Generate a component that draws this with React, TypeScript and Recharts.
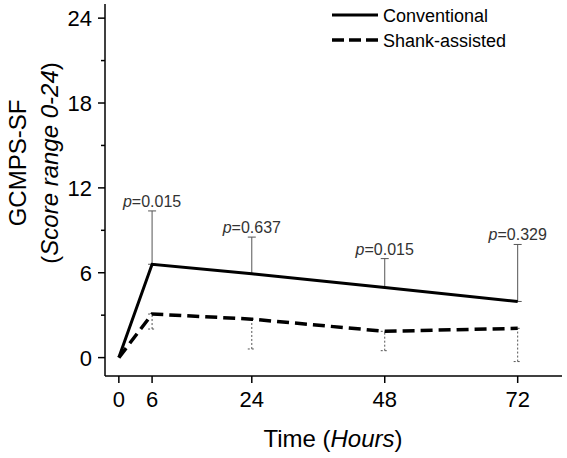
import React from "react";
import {
  LineChart,
  Line,
  XAxis,
  YAxis,
  ErrorBar,
  LabelList,
  Legend,
} from "recharts";

const hours = [0, 6, 24, 48, 72];
const conventional = [0, 6.6, 5.93, 4.96, 3.97];
const conventionalUpper = [null, 10.37, 8.52, 7.0, 8.0];
const shank = [0, 3.08, 2.72, 1.86, 2.07];
const shankLower = [null, 2.02, 0.61, 0.49, -0.28];
const pValues = [null, "0.015", "0.637", "0.015", "0.329"];

const yTicks = [0, 3, 6, 9, 12, 15, 18, 21, 24];
const xTicks = [0, 6, 24, 48, 72];

const data = hours.map((h, i) => ({
  hour: h,
  conv: conventional[i],
  convUpper: conventionalUpper[i],
  shank: shank[i],
  shankLower: shankLower[i],
  p: pValues[i],
}));

const FONT = "'Liberation Sans', Arial, sans-serif";

const YTick = (props: any) => {
  const { x, y, payload } = props;
  const major = payload.value % 6 === 0;
  return (
    <g>
      <line x1={x} x2={x - (major ? 7 : 4)} y1={y} y2={y} stroke="#000" strokeWidth={1.5} />
      {major && (
        <text x={x - 13} y={y + 8} textAnchor="end" fontSize={22} fontFamily={FONT} fill="#000">
          {payload.value}
        </text>
      )}
    </g>
  );
};

const XTick = (props: any) => {
  const { x, y, payload } = props;
  return (
    <g>
      <line x1={x} x2={x} y1={y} y2={y + 7} stroke="#000" strokeWidth={1.5} />
      <text x={x} y={y + 31} textAnchor="middle" fontSize={22} fontFamily={FONT} fill="#000">
        {payload.value}
      </text>
    </g>
  );
};

const YLabel = () => (
  <g fontFamily={FONT} fill="#000" fontSize={24}>
    <text x={26} y={163} textAnchor="middle" transform="rotate(-90 26 163)">
      GCMPS-SF
    </text>
    <text x={58} y={163} textAnchor="middle" transform="rotate(-90 58 163)">
      (<tspan fontStyle="italic">Score range 0-24</tspan>)
    </text>
  </g>
);

const XLabel = () => (
  <text x={333} y={447} textAnchor="middle" fontSize={24} fontFamily={FONT} fill="#000">
    Time (<tspan fontStyle="italic">Hours</tspan>)
  </text>
);

const PLabel = (props: any) => {
  const { x, y, value } = props;
  if (value == null) return null;
  return (
    <text x={x} y={y - 4} textAnchor="middle" fontSize={16} fontFamily={FONT} fill="#333">
      <tspan fontStyle="italic">p</tspan>={value}
    </text>
  );
};

const LegendBox = () => (
  <svg width={237} height={55}>
    <g fontFamily={FONT} fontSize={18} fill="#000">
      <line x1={2} x2={48} y1={15} y2={15} stroke="#000" strokeWidth={3} />
      <text x={53} y={22}>Conventional</text>
      <line x1={2} x2={48} y1={40} y2={40} stroke="#000" strokeWidth={3.5} strokeDasharray="12 5" />
      <text x={53} y={47}>Shank-assisted</text>
    </g>
  </svg>
);

export default function App() {
  return (
    <div style={{ position: "absolute", left: 0, top: 0, background: "#fff" }}>
      <LineChart
        width={567}
        height={458}
        data={data}
        margin={{ top: 4, right: 5, left: 0, bottom: 0 }}
      >
        <XAxis
          dataKey="hour"
          type="number"
          domain={[-2.5, 80]}
          ticks={xTicks}
          allowDataOverflow
          height={82}
          tickSize={0}
          tickMargin={0}
          tickLine={false}
          tick={<XTick />}
          axisLine={{ stroke: "#000", strokeWidth: 1.5 }}
          label={<XLabel />}
        />
        <YAxis
          type="number"
          domain={[-1.3, 25]}
          ticks={yTicks}
          allowDataOverflow
          interval={0}
          width={105}
          tickSize={0}
          tickMargin={0}
          tickLine={false}
          tick={<YTick />}
          axisLine={{ stroke: "#000", strokeWidth: 1.5 }}
          label={<YLabel />}
        />
        <Legend
          layout="vertical"
          align="center"
          verticalAlign="middle"
          content={<LegendBox />}
          wrapperStyle={{ position: "absolute", left: 330, top: 0, width: 237 }}
        />
        <Line
          dataKey="convUpper"
          stroke="none"
          dot={false}
          activeDot={false}
          legendType="none"
          isAnimationActive={false}
        >
          <LabelList dataKey="p" content={<PLabel />} />
        </Line>
        <Line
          dataKey="conv"
          stroke="#000"
          strokeWidth={3}
          dot={false}
          activeDot={false}
          isAnimationActive={false}
        >
          <ErrorBar
            dataKey={(d: any) => (d.convUpper == null ? null : [0, d.convUpper - d.conv])}
            width={4}
            stroke="#555"
            strokeWidth={1}
          />
        </Line>
        <Line
          dataKey="shank"
          stroke="#000"
          strokeWidth={3.5}
          strokeDasharray="12 6"
          dot={false}
          activeDot={false}
          isAnimationActive={false}
        >
          <ErrorBar
            dataKey={(d: any) => (d.shankLower == null ? null : [d.shank - d.shankLower, 0])}
            width={4}
            stroke="#555"
            strokeWidth={1}
            strokeDasharray="2 2"
          />
        </Line>
      </LineChart>
    </div>
  );
}
